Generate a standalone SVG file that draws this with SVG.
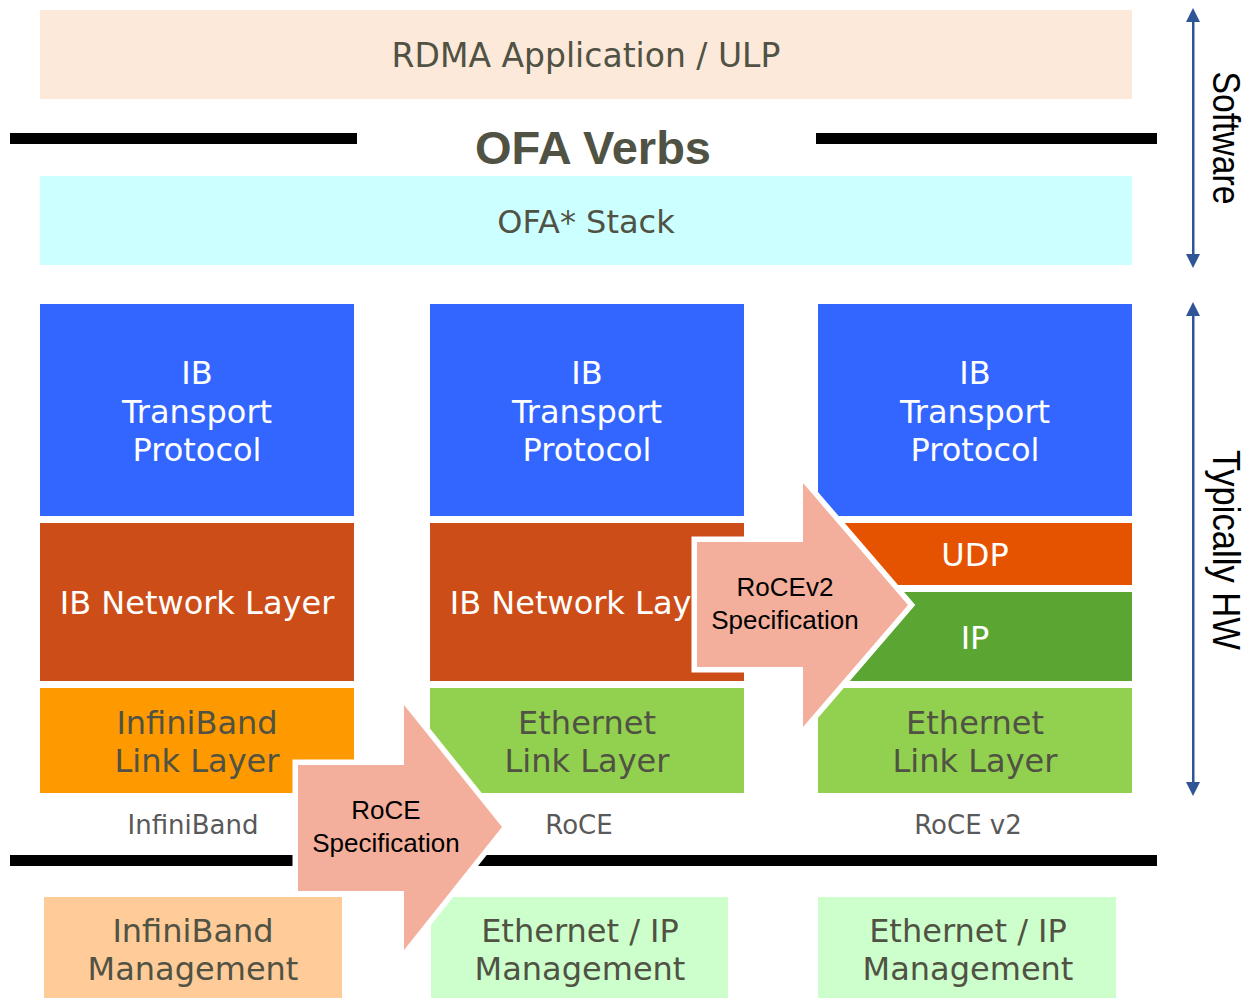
<svg xmlns="http://www.w3.org/2000/svg" width="1249" height="998" viewBox="0 0 1249 998">
<style>
.t{font-family:"DejaVu Sans","Verdana",sans-serif;font-size:32px;text-anchor:middle;fill:#505243}
.w{fill:#ffffff}
.lbl{font-family:"DejaVu Sans","Verdana",sans-serif;font-size:26px;text-anchor:middle;fill:#595959}
.a{font-family:"Liberation Sans",Arial,sans-serif;font-size:26px;text-anchor:middle;fill:#000}
.bar{fill:#000}
.spec{fill:#F4AF9C;stroke:#fff;stroke-width:11;paint-order:stroke;stroke-linejoin:miter}
.side{font-family:"Liberation Sans",Arial,sans-serif;font-size:38px;text-anchor:middle;fill:#000}
</style>
<rect width="1249" height="998" fill="#fff"/>
<g id="app"><rect x="40" y="10" width="1092" height="89" fill="#FDE9D9"/><text class="t" x="586" y="67" style="font-size:33px">RDMA Application / ULP</text></g>
<g id="verbs">
<rect class="bar" x="10" y="133" width="347" height="11"/>
<rect class="bar" x="816" y="133" width="341" height="11"/>
<text x="593" y="164" font-family="Liberation Sans, Arial, sans-serif" font-weight="bold" font-size="47" text-anchor="middle" fill="#505243">OFA Verbs</text>
</g>
<g id="stack"><rect x="40" y="176" width="1092" height="89" fill="#CCFFFF"/><text class="t" x="586" y="233">OFA* Stack</text></g>

<g id="ib-transport-1"><rect x="40" y="304" width="314" height="212" fill="#3366FF"/><text class="t w" x="197" y="384">IB</text><text class="t w" x="197" y="423">Transport</text><text class="t w" x="197" y="461">Protocol</text></g>
<g id="ib-transport-2"><rect x="430" y="304" width="314" height="212" fill="#3366FF"/><text class="t w" x="587" y="384">IB</text><text class="t w" x="587" y="423">Transport</text><text class="t w" x="587" y="461">Protocol</text></g>
<g id="ib-transport-3"><rect x="818" y="304" width="314" height="212" fill="#3366FF"/><text class="t w" x="975" y="384">IB</text><text class="t w" x="975" y="423">Transport</text><text class="t w" x="975" y="461">Protocol</text></g>

<g id="ib-network-1"><rect x="40" y="523" width="314" height="158" fill="#CC4D17"/><text class="t w" x="197" y="614">IB Network Layer</text></g>
<g id="ib-network-2"><rect x="430" y="523" width="314" height="158" fill="#CC4D17"/><text class="t w" x="587" y="614">IB Network Layer</text></g>
<g id="udp"><rect x="818" y="523" width="314" height="62" fill="#E55300"/><text class="t w" x="975" y="566">UDP</text></g>
<g id="ip"><rect x="818" y="592" width="314" height="89" fill="#5BA633"/><text class="t w" x="975" y="649">IP</text></g>

<g id="ib-link"><rect x="40" y="688" width="314" height="105" fill="#FF9900"/><text class="t" x="197" y="734">InfiniBand</text><text class="t" x="197" y="772">Link Layer</text></g>
<g id="eth-link-2"><rect x="430" y="688" width="314" height="105" fill="#92D050"/><text class="t" x="587" y="734">Ethernet</text><text class="t" x="587" y="772">Link Layer</text></g>
<g id="eth-link-3"><rect x="818" y="688" width="314" height="105" fill="#92D050"/><text class="t" x="975" y="734">Ethernet</text><text class="t" x="975" y="772">Link Layer</text></g>

<g id="labels">
<text class="lbl" x="193" y="834">InfiniBand</text>
<text class="lbl" x="579" y="834">RoCE</text>
<text class="lbl" x="968" y="834">RoCE v2</text>
</g>
<rect id="hw-bar" class="bar" x="10" y="855" width="1147" height="11"/>

<g id="ib-mgmt"><rect x="44" y="897" width="298" height="101" fill="#FFCC99"/><text class="t" x="193" y="942">InfiniBand</text><text class="t" x="193" y="980">Management</text></g>
<g id="eth-mgmt-2"><rect x="431" y="897" width="297" height="101" fill="#CCFFCC"/><text class="t" x="580" y="942">Ethernet / IP</text><text class="t" x="580" y="980">Management</text></g>
<g id="eth-mgmt-3"><rect x="818" y="897" width="298" height="101" fill="#CCFFCC"/><text class="t" x="968" y="942">Ethernet / IP</text><text class="t" x="968" y="980">Management</text></g>

<g id="roce-spec"><polygon class="spec" points="298,765 404,765 404,705 502,827 404,950 404,891 298,891"/><text class="a" x="386" y="819">RoCE</text><text class="a" x="386" y="852">Specification</text></g>
<g id="rocev2-spec"><polygon class="spec" points="697,542 803,542 803,483 908,605 803,727 803,667 697,667"/><text class="a" x="785" y="596">RoCEv2</text><text class="a" x="785" y="629">Specification</text></g>

<g id="connectors" fill="#2F5597" stroke="none">
<rect x="1192" y="20" width="2.5" height="236"/>
<polygon points="1193,8 1186,22 1200,22"/>
<polygon points="1193,268 1186,254 1200,254"/>
<rect x="1192" y="314" width="2.5" height="470"/>
<polygon points="1193,302 1186,316 1200,316"/>
<polygon points="1193,796 1186,782 1200,782"/>
</g>
<g id="side-labels">
<text class="side" transform="translate(1213,138) rotate(90)" textLength="133" lengthAdjust="spacingAndGlyphs">Software</text>
<text class="side" transform="translate(1213,550) rotate(90)" textLength="200" lengthAdjust="spacingAndGlyphs">Typically HW</text>
</g>
</svg>
